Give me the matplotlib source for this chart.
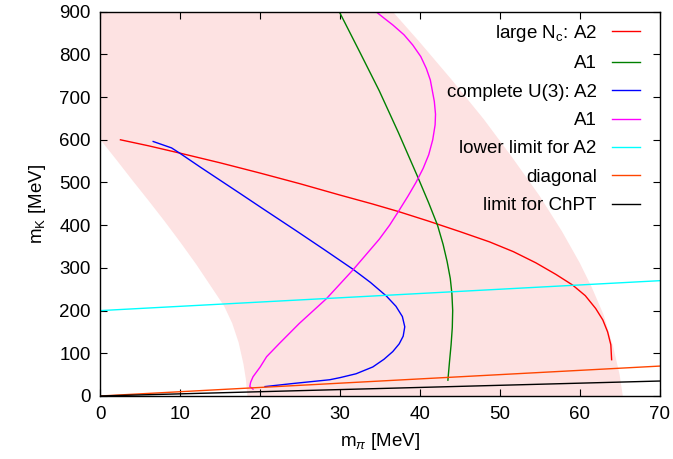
import numpy as np
import matplotlib
matplotlib.use("Agg")
import matplotlib.pyplot as plt

plt.rcParams['font.family'] = ['Liberation Sans', 'DejaVu Sans']
plt.rcParams['mathtext.fontset'] = 'custom'
plt.rcParams['mathtext.rm'] = 'Liberation Sans'
plt.rcParams['mathtext.it'] = 'Liberation Sans:italic'
plt.rcParams['mathtext.sf'] = 'Liberation Sans'

# allowed region (pink band)
band_left_mpi = [0.0, 0.0, 2.0, 4.0, 6.0, 8.0, 10.0, 12.0, 14.0, 15.5, 16.5, 17.3, 17.9, 18.2, 18.4]
band_left_mk = [900, 600, 553, 505, 458, 410, 360, 308, 252, 210, 170, 125, 75, 40, 0]
band_right_mpi = [36.6, 40.0, 44.0, 48.0, 51.5, 55.0, 57.8, 60.0, 61.5, 63.0, 64.2, 65.0, 65.4]
band_right_mk = [900, 828, 740, 648, 560, 468, 385, 312, 255, 190, 115, 50, 0]

# large Nc: A2 (red)
nc_a2_mpi = [2.5, 6.0, 9.9, 15.0, 20.0, 25.0, 29.9, 34.0, 37.3, 41.0, 45.0, 48.7, 51.7,
             54.5, 57.0, 59.1, 60.7, 62.0, 62.9, 63.5, 63.9, 64.0]
nc_a2_mk = [600, 586, 569, 546, 522, 497, 471, 450, 432, 410, 385, 361, 338,
            312, 285, 260, 235, 205, 178, 150, 120, 85]

# large Nc: A1 (green)
nc_a1_mpi = [29.9, 32.4, 34.9, 37.3, 39.7, 41.1, 42.2, 42.9, 43.4, 43.8, 44.0, 44.1,
             44.05, 43.9, 43.7, 43.5]
nc_a1_mk = [900, 808, 715, 617, 514, 452, 400, 355, 315, 275, 240, 200,
            160, 120, 80, 37]

# complete U(3): A2 (blue)
u3_a2_mpi = [6.6, 8.9, 9.9, 12.5, 15.0, 17.5, 20.3, 24.5, 28.0, 31.6, 33.8, 35.8, 37.0,
             37.8, 38.1, 37.9, 37.4, 36.6, 35.5, 34.1, 32.0, 30.0, 28.7, 24.0, 20.6]
u3_a2_mk = [596, 581, 569, 536, 505, 474, 439, 387, 343, 297, 266, 234, 210,
            186, 162, 140, 122, 104, 86, 68, 52, 43, 38, 29, 22]

# complete U(3): A1 (magenta)
u3_a1_mpi = [19.1, 18.7, 18.8, 19.1, 20.0, 20.8, 22.4, 24.9, 28.3, 31.6, 34.9, 36.2, 37.3,
             38.5, 39.5, 40.4, 41.1, 41.6, 41.9, 41.95, 41.8, 41.6, 41.3, 40.8, 40.1,
             39.1, 38.0, 36.6, 35.5, 34.5]
u3_a1_mk = [16, 22, 32, 45, 68, 92, 123, 170, 228, 295, 367, 400, 432,
            468, 500, 533, 565, 600, 635, 660, 690, 710, 740, 767, 795,
            822, 846, 869, 885, 900]

# straight lines
line_mpi = [0, 70]
lower_a2_mk = [200, 270]
diagonal_mk = [0, 70]
chpt_mk = [0, 35]

fig = plt.figure(figsize=(6.73, 4.59), dpi=100)
ax = fig.add_axes([0.1493, 0.1373, 0.8307, 0.8372])

band_x = band_left_mpi[::-1] + band_right_mpi
band_y = band_left_mk[::-1] + band_right_mk
ax.fill(band_x, band_y, color='#fde2e2', lw=0, zorder=0)

lw = 1.0
ax.plot(nc_a2_mpi, nc_a2_mk, color='#ff0000', lw=lw, label=r'large N$_\mathrm{c}$: A2')
ax.plot(nc_a1_mpi, nc_a1_mk, color='#008000', lw=lw, label='A1')
ax.plot(u3_a2_mpi, u3_a2_mk, color='#0000ff', lw=lw, label='complete U(3): A2')
ax.plot(u3_a1_mpi, u3_a1_mk, color='#ff00ff', lw=lw, label='A1')
ax.plot(line_mpi, lower_a2_mk, color='#00ffff', lw=lw, label='lower limit for A2')
ax.plot(line_mpi, diagonal_mk, color='#ff4500', lw=lw, label='diagonal')
ax.plot(line_mpi, chpt_mk, color='#000000', lw=lw, label='limit for ChPT')

ax.set_xlim(0, 70)
ax.set_ylim(0, 900)
ax.set_xticks(np.arange(0, 71, 10))
ax.set_yticks(np.arange(0, 901, 100))
ax.tick_params(direction='in', top=True, right=True, length=5, width=0.8,
               labelsize=13.5, pad=7)
for s in ax.spines.values():
    s.set_linewidth(1.0)

ax.set_xlabel(r'm$_\pi$ [MeV]', fontsize=13.5, labelpad=6)
ax.set_ylabel(r'm$_\mathrm{K}$ [MeV]', fontsize=13.5, labelpad=8)

ax.legend(loc='upper right', frameon=False, markerfirst=False, fontsize=13.5,
          handlelength=1.5, labelspacing=0.60, borderaxespad=0.2,
          bbox_to_anchor=(0.985, 1.0))

fig.savefig('out.png', dpi=100)
